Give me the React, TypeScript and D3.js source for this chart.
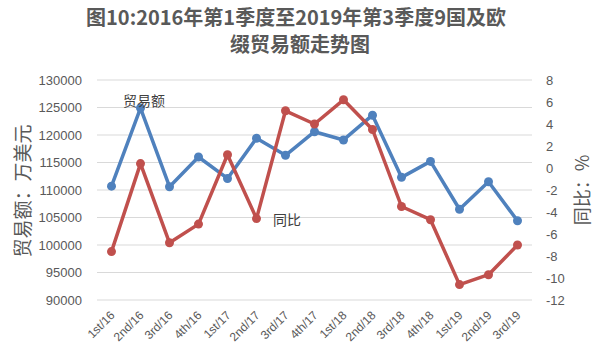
import React from "react";
import * as d3 from "d3";

const categories = ["1st/16","2nd/16","3rd/16","4th/16","1st/17","2nd/17","3rd/17","4th/17","1st/18","2nd/18","3rd/18","4th/18","1st/19","2nd/19","3rd/19"];
const tradeValues = [110700,124900,110600,116000,112100,119400,116300,120600,119100,123600,112300,115200,106500,111500,104400];
const yoyValues = [-7.6,0.4,-6.8,-5.1,1.2,-4.6,5.2,4.0,6.2,3.5,-3.5,-4.7,-10.6,-9.7,-7.0];
const leftTicks = [90000,95000,100000,105000,110000,115000,120000,125000,130000];
const rightTicks = [-12,-10,-8,-6,-4,-2,0,2,4,6,8];

const W = 600, H = 360;
const plot = { left: 97, right: 532, top: 80, bottom: 300 };
const BLUE = "#4F81BD";
const RED = "#C0504D";
const TXT = "#595959";
const FONT = "'Liberation Sans', 'Noto Sans CJK SC', sans-serif";
const CJK = "'Noto Sans CJK SC', sans-serif";

export default function App() {
  const x = d3.scaleBand<string>().domain(categories).range([plot.left, plot.right]);
  const cx = (c: string) => (x(c) as number) + x.bandwidth() / 2;
  const yL = d3.scaleLinear().domain([90000, 130000]).range([plot.bottom, plot.top]);
  const yR = d3.scaleLinear().domain([-12, 8]).range([plot.bottom, plot.top]);

  const lineL = d3.line<number>().x((_, i) => cx(categories[i])).y(d => yL(d));
  const lineR = d3.line<number>().x((_, i) => cx(categories[i])).y(d => yR(d));

  return (
    <svg width={W} height={H} style={{ position: "absolute", left: 0, top: 0, background: "#fff" }}>
      <rect width={W} height={H} fill="#fff" />
      <text x={296} y={25} textAnchor="middle" fontFamily={CJK} fontWeight="bold" fontSize={20} fill={TXT}>图10:2016年第1季度至2019年第3季度9国及欧</text>
      <text x={300} y={52} textAnchor="middle" fontFamily={CJK} fontWeight="bold" fontSize={20} fill={TXT}>缀贸易额走势图</text>

      {leftTicks.map(t => (
        <line key={"g" + t} x1={plot.left} x2={plot.right} y1={yL(t)} y2={yL(t)} stroke="#d9d9d9" strokeWidth={1} />
      ))}
      {leftTicks.map(t => (
        <text key={"l" + t} x={82} y={yL(t) + 4.5} textAnchor="end" fontFamily={FONT} fontSize={13} fill={TXT}>{t}</text>
      ))}
      {rightTicks.map(t => (
        <text key={"r" + t} x={546} y={yR(t) + 4.5} textAnchor="start" fontFamily={FONT} fontSize={13} fill={TXT}>{t}</text>
      ))}
      {categories.map(c => (
        <text key={"x" + c} transform={`translate(${cx(c) + 4},${plot.bottom + 16}) rotate(-45)`} textAnchor="end" fontFamily={FONT} fontSize={12} fill={TXT}>{c}</text>
      ))}

      <text transform={`translate(30,191) rotate(-90)`} textAnchor="middle" fontFamily={CJK} fontSize={19} fill={TXT}>贸易额：万美元</text>
      <text transform={`translate(589,190) rotate(-90)`} textAnchor="middle" fontFamily={CJK} fontSize={18} fill={TXT}>同比：%</text>

      <path d={lineL(tradeValues) || ""} fill="none" stroke={BLUE} strokeWidth={3.5} strokeLinejoin="round" />
      {tradeValues.map((v, i) => (
        <circle key={"b" + i} cx={cx(categories[i])} cy={yL(v)} r={4.5} fill={BLUE} />
      ))}
      <path d={lineR(yoyValues) || ""} fill="none" stroke={RED} strokeWidth={3.5} strokeLinejoin="round" />
      {yoyValues.map((v, i) => (
        <circle key={"d" + i} cx={cx(categories[i])} cy={yR(v)} r={4.5} fill={RED} />
      ))}

      <text x={123} y={106} fontFamily={CJK} fontSize={14} fill="#404040">贸易额</text>
      <text x={273} y={225} fontFamily={CJK} fontSize={14} fill="#404040">同比</text>
    </svg>
  );
}
